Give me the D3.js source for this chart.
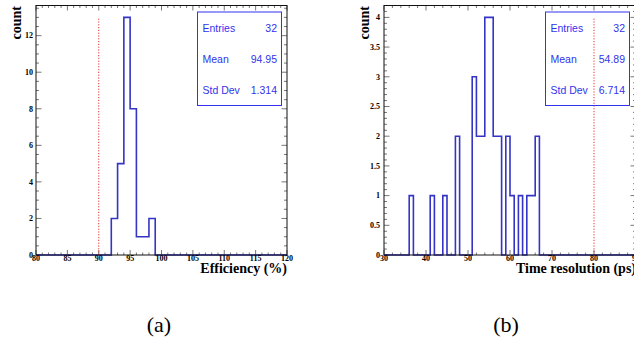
<!DOCTYPE html>
<html><head><meta charset="utf-8">
<script src="https://cdn.jsdelivr.net/npm/d3@7"></script>
<style>body{margin:0;background:#fff}svg{display:block}</style>
</head><body>
<svg id="c" width="634" height="339"></svg>
<script>
// ---- data ----
const effBinStart = 80, effBinWidth = 1;
const effCounts = [0,0,0,0,0,0,0,0,0,0, 0,0,2,5,13,8,1,1,2,0, 0,0,0,0,0,0,0,0,0,0, 0,0,0,0,0,0,0,0,0,0];
const effXTicks = [80,85,90,95,100,105,110,115,120];
const effYTicks = [0,2,4,6,8,10,12];
const effStats = [["Entries","32"],["Mean","94.95"],["Std Dev","1.314"]];
const effCut = 90;

const timeBinStart = 30, timeBinWidth = 1;
const timeCounts = [0,0,0,0,0,0,1,0,0,0, 0,1,0,0,1,0,0,2,0,0, 0,3,2,2,4,4,2,2,0,2, 1,0,1,0,1,1,2,0,0,0, 0,0,0,0,0,0,0,0,0,0, 0,0,0,0,0,0,0,0,0,0];
const timeXTicks = [30,40,50,60,70,80,90];
const timeYTicks = [0,0.5,1,1.5,2,2.5,3,3.5,4];
const timeStats = [["Entries","32"],["Mean","54.89"],["Std Dev","6.714"]];
const timeCut = 80;

const panelLabels = ["(a)","(b)"];

const svg = d3.select("#c");
const HIST = "#3434c6", STAT = "#3333ee";

function panel(o){
  const g = svg.append("g");
  const x = d3.scaleLinear().domain(o.xDomain).range([o.left, o.right]);
  const y = d3.scaleLinear().domain(o.yDomain).range([o.bottom, o.top]);
  const tickCol = "#777";
  const xMin = d3.range(o.xDomain[0], o.xDomain[1] + 1e-9, o.xMinor);
  const yMin = d3.range(o.yDomain[0], o.yDomain[1] + 1e-9, o.yMinor);
  const tg = g.append("g").attr("stroke", tickCol).attr("stroke-width", 1);
  xMin.forEach(v => {
    const major = o.xTicks.some(t => Math.abs(t - v) < 1e-6);
    const L = major ? 5 : 2.5;
    tg.append("line").attr("x1", x(v)).attr("x2", x(v)).attr("y1", o.bottom).attr("y2", o.bottom - L);
    tg.append("line").attr("x1", x(v)).attr("x2", x(v)).attr("y1", o.top).attr("y2", o.top + L);
  });
  yMin.forEach(v => {
    const major = o.yTicks.some(t => Math.abs(t - v) < 1e-6);
    const L = major ? 5.5 : 3;
    tg.append("line").attr("y1", y(v)).attr("y2", y(v)).attr("x1", o.left).attr("x2", o.left + L);
    tg.append("line").attr("y1", y(v)).attr("y2", y(v)).attr("x1", o.right).attr("x2", o.right - L);
  });
  // histogram step line
  let d = `M${x(o.binStart)},${y(0)}`;
  o.counts.forEach((c, i) => {
    const x1 = o.binStart + (i + 1) * o.binWidth;
    d += `V${y(c)}H${x(x1)}`;
  });
  d += `V${y(0)}`;
  g.append("path").attr("d", d).attr("fill", "none").attr("stroke", HIST).attr("stroke-width", 1.6);
  // cut line
  g.append("line").attr("x1", x(o.cut)).attr("x2", x(o.cut))
    .attr("y1", y(0)).attr("y2", y(d3.max(o.counts)))
    .attr("stroke", "#e8332f").attr("stroke-width", 1).attr("stroke-dasharray", "1.2,1.6");
  // frame
  g.append("rect").attr("x", o.left).attr("y", o.top).attr("width", o.right - o.left).attr("height", o.bottom - o.top)
    .attr("fill", "none").attr("stroke", "#111").attr("stroke-width", 1);
  // tick labels
  const lf = "'Liberation Serif','Times New Roman',serif";
  o.xTicks.forEach(t => {
    g.append("text").attr("x", x(t)).attr("y", o.bottom + 5.8).attr("text-anchor", "middle")
      .attr("font-family", lf).attr("font-weight", "bold").attr("font-size", 8).text(d3.format("~g")(t));
  });
  o.yTicks.forEach(t => {
    g.append("text").attr("x", o.left - o.yLabOff).attr("y", y(t)).attr("dy", "0.35em").attr("text-anchor", "end")
      .attr("font-family", lf).attr("font-weight", "bold").attr("font-size", 8).text(d3.format("~g")(t));
  });
  // axis titles
  g.append("text").attr("x", o.right).attr("y", o.bottom + 18).attr("text-anchor", "end")
    .attr("font-family", lf).attr("font-weight", "bold").attr("font-size", 14).text(o.xTitle);
  g.append("text").attr("transform", `translate(${o.left - 15},${o.top + 0.5}) rotate(-90)`).attr("text-anchor", "end")
    .attr("font-family", lf).attr("font-weight", "bold").attr("font-size", 14).text("count");
  // stats box
  const sb = o.statBox;
  g.append("rect").attr("x", sb[0]).attr("y", sb[1]).attr("width", sb[2]).attr("height", sb[3])
    .attr("fill", "none").attr("stroke", STAT).attr("stroke-width", 1);
  o.stats.forEach((s, i) => {
    const cy = sb[1] + sb[3] * (i + 0.5) / 3 + 0.5;
    g.append("text").attr("x", sb[0] + 5).attr("y", cy).attr("dy", "0.35em")
      .attr("font-family", "'Liberation Sans',Arial,sans-serif").attr("font-size", 10.5).attr("fill", STAT).text(s[0]);
    g.append("text").attr("x", sb[0] + sb[2] - 4.5).attr("y", cy).attr("dy", "0.35em").attr("text-anchor", "end")
      .attr("font-family", "'Liberation Sans',Arial,sans-serif").attr("font-size", 10.5).attr("fill", STAT).text(s[1]);
  });
  // panel label
  svg.append("text").attr("x", o.labX).attr("y", 332).attr("text-anchor", "middle")
    .attr("font-family", "'Liberation Serif','Times New Roman',serif").attr("font-size", 22).text(o.label);
}

panel({left: 36, right: 287, top: 5.5, bottom: 255, xDomain: [80, 120], yDomain: [0, 13.65],
  xMinor: 1, yMinor: 0.5, xTicks: effXTicks, yTicks: effYTicks, binStart: effBinStart, binWidth: effBinWidth,
  counts: effCounts, cut: effCut, xTitle: "Efficiency (%)", stats: effStats, statBox: [197.5, 12, 84, 93.5],
  yLabOff: 3, label: panelLabels[0], labX: 159});
panel({left: 384, right: 636, top: 5.5, bottom: 255, xDomain: [30, 90], yDomain: [0, 4.2],
  xMinor: 2, yMinor: 0.1, xTicks: timeXTicks, yTicks: timeYTicks, binStart: timeBinStart, binWidth: timeBinWidth,
  counts: timeCounts, cut: timeCut, xTitle: "Time resolution (ps)", stats: timeStats, statBox: [545.5, 12, 84, 93.5],
  yLabOff: 4, label: panelLabels[1], labX: 506});
</script>
</body></html>
